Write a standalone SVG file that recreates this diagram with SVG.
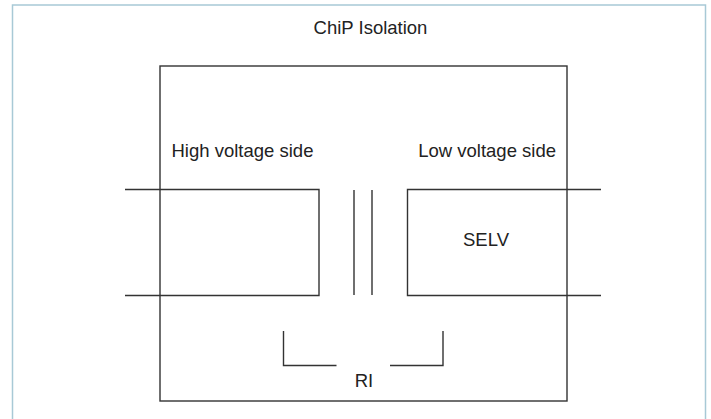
<svg xmlns="http://www.w3.org/2000/svg" width="711" height="419" viewBox="0 0 711 419">
<style>
.frame{fill:none;stroke:#a8c9d6;stroke-width:1.5}
.ln{fill:none;stroke:#333;stroke-width:1.4}
.t{font-family:"Liberation Sans",Arial,sans-serif;font-size:18.5px;fill:#222}
</style>
<rect x="0" y="0" width="711" height="419" fill="#fff"/>
<rect class="frame" x="12.5" y="5" width="693" height="420"/>
<g id="title"><text class="t" x="370.5" y="34" text-anchor="middle">ChiP Isolation</text></g>
<g id="chip"><rect class="ln" x="160" y="66" width="407" height="335"/></g>
<g id="hv-label"><text class="t" x="171.5" y="157">High voltage side</text></g>
<g id="lv-label"><text class="t" x="556" y="157" text-anchor="end">Low voltage side</text></g>
<g id="hv-block"><path class="ln" d="M125 189.5H319V295.5H125"/></g>
<g id="transformer"><path class="ln" d="M354 190V295M372 190V295"/></g>
<g id="selv"><path class="ln" d="M601 189.5H407.5V295.5H601"/><text class="t" x="486" y="246" text-anchor="middle">SELV</text></g>
<g id="ri"><path class="ln" d="M283.5 331V365.5H336.5M390 365.5H443V331"/><text class="t" x="364" y="387" text-anchor="middle">RI</text></g>
</svg>
